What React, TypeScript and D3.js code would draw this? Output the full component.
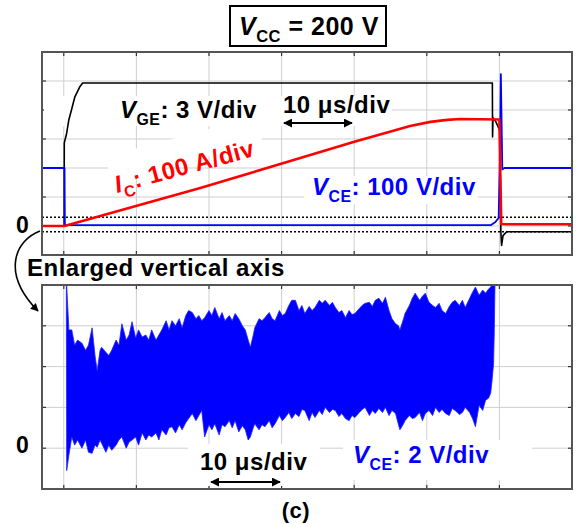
import { area, line, scaleLinear } from "d3";

// time in µs (10 µs/div), 0 = gate turn-on
const timeTicks = [0, 10, 20, 30, 40, 50, 60];
const topGridDivs = [0, 1, 2, 3, 4, 5];
const lowGridVolts = [0, 2, 4, 6];
const zeroBandDivs = [0.3, -0.2];

// V_GE, 3 V/div
const vgeTime = [-3, 0.05, 0.07, 0.2, 0.4, 0.7, 1.06, 1.5, 2.2, 2.6, 59.03, 59.06, 59.12, 59.5, 60.05, 60.2, 60.3, 60.5, 61, 70];
const vgeVolt = [0, 0, 8.6, 9.0, 9.6, 11.0, 12.0, 13.3, 14.4, 14.8, 14.8, 9.2, 11.2, 10.8, 9.9, -0.6, -2.0, -1.0, -0.6, -0.6];

// I_C, 100 A/div
const icTime = [-3, 0.1, 18.8, 31.2, 39.9, 47.7, 50.5, 52.8, 54.6, 60.0, 60.25, 61, 70];
const icAmp = [0, 0, 131, 224, 290, 345, 359, 366, 369, 367, 7, 6, 6];

// V_CE, 100 V/div
const vceTime = [-3, 0.1, 0.15, 58.8, 59.45, 59.9, 60.1, 60.2, 60.4, 60.7, 70];
const vceVolt = [200, 200, 3, 3, 14, 28, 300, 524, 195, 200, 200];

// V_CE enlarged (2 V/div): [time, upper, lower] envelope of the noisy on-state trace
const vceNoise: [number, number, number][] = [
  [0.35, 8.0, 8.0], [0.4, 8.0, -1.1], [0.7, 5.8, -0.35], [1.1, 5.8, 0.55], [1.5, 5.05, 0.15],
  [1.9, 5.3, 0.4], [2.5, 5.15, 0], [3.0, 4.8, 0.4], [3.4, 5.05, -0.2], [3.9, 5.9, -0.25],
  [4.3, 4.55, 0.15], [4.6, 3.8, 0.05], [5.0, 4.8, 0.4], [5.2, 4.95, 0.25], [5.8, 4.7, -0.2],
  [6.2, 4.55, 0.15], [6.6, 4.8, -0.1], [7.2, 5.3, 0.15], [7.6, 5.05, 0.4], [8.0, 6.1, 0.55],
  [8.6, 5.3, 0], [9.0, 5.55, 0.3], [9.4, 6.2, 0.4], [9.9, 5.4, 0.55], [10.3, 5.8, 0.15],
  [10.8, 5.45, 0.75], [11.3, 5.55, 0.4], [11.7, 5.3, 0.65], [12.1, 5.8, 0.55], [12.7, 5.3, 0.75],
  [13.1, 5.55, 0.4], [13.5, 5.8, 0.9], [14.1, 6.25, 0.65], [14.5, 5.8, 1.0], [14.9, 6.25, 1.05],
  [15.4, 6.0, 0.75], [15.9, 6.35, 1.15], [16.3, 5.9, 0.9], [16.8, 6.5, 1.25], [17.2, 6.75, 1.45],
  [17.7, 6.65, 1.7], [18.2, 6.35, 1.35], [18.6, 6.5, 1.6], [19.0, 6.25, 1.85], [19.4, 6.4, 0.55],
  [20.0, 6.75, 1.15], [20.4, 6.5, 0.9], [20.8, 6.9, 1.2], [21.4, 6.35, 0.65], [21.8, 6.65, 1.15],
  [22.2, 6.25, 1.05], [22.8, 6.5, 1.35], [23.2, 6.25, 1.0], [23.6, 6.6, 1.35], [24.1, 6.35, 0.8],
  [24.6, 6.0, 1.1], [25.0, 5.8, 0.9], [25.4, 5.3, 0.4], [25.7, 4.95, 0.55], [26.1, 5.55, 1.0],
  [26.3, 5.9, 1.2], [26.9, 6.35, 0.9], [27.3, 6.25, 1.15], [27.7, 6.4, 1.05], [28.3, 6.65, 1.35],
  [28.7, 6.35, 1.0], [29.1, 6.25, 1.2], [29.7, 6.75, 1.6], [30.1, 6.5, 1.35], [30.5, 6.6, 1.5],
  [31.0, 7.0, 1.75], [31.4, 7.25, 1.45], [31.9, 7.25, 1.7], [32.4, 6.75, 1.55], [32.8, 7.0, 1.9],
  [33.2, 6.6, 1.85], [33.8, 6.95, 1.35], [34.2, 6.75, 1.75], [34.6, 6.9, 1.5], [35.2, 7.25, 1.85],
  [35.6, 7.1, 1.65], [36.0, 7.25, 2.0], [36.6, 7.0, 1.75], [37.0, 7.15, 1.9], [37.4, 6.9, 1.85],
  [37.9, 6.65, 1.55], [38.3, 6.75, 1.7], [38.8, 6.4, 1.45], [39.3, 6.75, 1.35], [39.7, 6.55, 1.6],
  [40.1, 6.6, 1.5], [40.7, 6.85, 1.75], [41.1, 7.0, 1.9], [41.5, 7.1, 2.0], [42.1, 7.15, 1.6],
  [42.5, 6.95, 1.85], [42.9, 7.25, 1.7], [43.4, 7.35, 1.95], [43.9, 7.1, 1.75], [44.3, 7.4, 2.0],
  [44.8, 6.75, 1.6], [45.2, 6.35, 1.85], [45.7, 6.1, 1.7], [46.1, 6.0, 1.15], [46.3, 5.8, 0.9],
  [46.8, 6.35, 1.2], [47.0, 6.6, 1.35], [47.6, 7.0, 1.6], [48.0, 7.35, 1.45], [48.4, 7.6, 1.5],
  [49.0, 7.25, 1.75], [49.4, 7.45, 1.35], [49.8, 7.6, 1.7], [50.3, 7.15, 1.85], [50.8, 7.0, 1.6],
  [51.2, 6.9, 2.0], [51.7, 7.1, 1.75], [52.1, 6.75, 1.9], [52.6, 6.6, 1.7], [53.1, 6.95, 1.6],
  [53.5, 7.15, 1.95], [53.9, 7.25, 1.85], [54.5, 7.0, 1.65], [54.9, 7.25, 1.75], [55.3, 6.9, 2.0],
  [55.9, 7.35, 1.75], [56.3, 7.65, 1.45], [56.7, 7.9, 1.05], [57.2, 7.5, 2.1], [57.7, 7.75, 1.85],
  [58.1, 7.6, 2.35], [58.5, 7.8, 2.45], [58.8, 7.9, 2.7], [59.0, 8.0, 3.35], [59.2, 8.0, 4.15],
  [59.3, 8.0, 5.8], [59.4, 8.2, 8.2],
];

const FONT = "'Liberation Sans', Arial, Helvetica, sans-serif";

const x = scaleLinear().domain([-3, 70]).range([42, 572]);
const yDiv = scaleLinear().domain([-1, 6]).range([255, 52]);
const yVge = scaleLinear().domain([-3, 18]).range([255, 52]);
const yIc = scaleLinear().domain([-100, 600]).range([255, 52]);
const yVce = scaleLinear().domain([-100, 600]).range([255, 52]);
const yLow = scaleLinear().domain([-2, 8]).range([489, 285]);

function trace(ts: number[], vs: number[], y: (v: number) => number) {
  const l = line<number>()
    .x((_, i) => x(ts[i]))
    .y((v) => y(v));
  return l(vs) || "";
}

function Grid({ y, levels, top, bottom }: { y: (v: number) => number; levels: number[]; top: number; bottom: number }) {
  const left = x.range()[0];
  const right = x.range()[1];
  return (
    <g>
      {timeTicks.map((t) => (
        <g key={"v" + t}>
          <line x1={x(t)} x2={x(t)} y1={top} y2={bottom} stroke="#cfcfcf" strokeWidth={1} />
          <line x1={x(t)} x2={x(t)} y1={top} y2={top + 4} stroke="#333" strokeWidth={1.2} />
          <line x1={x(t)} x2={x(t)} y1={bottom - 4} y2={bottom} stroke="#333" strokeWidth={1.2} />
        </g>
      ))}
      {levels.map((v) => (
        <g key={"h" + v}>
          <line x1={left} x2={right} y1={y(v)} y2={y(v)} stroke="#cfcfcf" strokeWidth={1} />
          <line x1={left} x2={left + 4} y1={y(v)} y2={y(v)} stroke="#333" strokeWidth={1.2} />
          <line x1={right - 4} x2={right} y1={y(v)} y2={y(v)} stroke="#333" strokeWidth={1.2} />
        </g>
      ))}
    </g>
  );
}

function SubLabel({ x0, y0, main, sub, rest, color, size, italic = true }: any) {
  return (
    <text x={x0} y={y0} fill={color} fontFamily={FONT} fontWeight="bold" fontSize={size} letterSpacing={0.5}>
      <tspan fontStyle={italic ? "italic" : "normal"}>{main}</tspan>
      <tspan fontSize={size * 0.66} dy={size * 0.28}>{sub}</tspan>
      <tspan dy={-size * 0.28}>{rest}</tspan>
    </text>
  );
}

function Plain({ x0, y0, size, children, anchor = "start" }: any) {
  return (
    <text x={x0} y={y0} textAnchor={anchor} fontFamily={FONT} fontWeight="bold" fontSize={size} letterSpacing={0.5}>
      {children}
    </text>
  );
}

export default function App() {
  const left = 42;
  const right = 572;
  const noiseArea =
    area<[number, number, number]>()
      .x((d) => x(d[0]))
      .y0((d) => yLow(d[2]))
      .y1((d) => yLow(d[1]))(vceNoise) || "";

  return (
    <svg width={580} height={524} style={{ position: "absolute", left: 0, top: 0, background: "#fff" }}>
      <defs>
        <marker id="ah" viewBox="0 0 10 10" refX="9" refY="5" markerWidth="5" markerHeight="5" orient="auto-start-reverse">
          <path d="M0,0 L10,5 L0,10 z" fill="#000" />
        </marker>
        <clipPath id="clipTop">
          <rect x={left} y={52} width={right - left} height={203} />
        </clipPath>
        <clipPath id="clipLow">
          <rect x={left} y={285} width={right - left} height={204} />
        </clipPath>
      </defs>

      {/* title */}
      <rect x={230} y={6} width={156} height={40} fill="#fff" stroke="#000" strokeWidth={2} />
      <SubLabel x0={239} y0={35} main="V" sub="CC" rest=" = 200 V" color="#000" size={25} />

      {/* upper panel */}
      <Grid y={yDiv} levels={topGridDivs} top={52} bottom={255} />
      <rect x={44} y={96} width={348} height={30} fill="#fff" />
      <rect x={304} y={176} width={174} height={28} fill="#fff" />
      <rect x={112} y={156} width={156} height={26} fill="#fff" transform="rotate(-15 112 182)" />
      {zeroBandDivs.map((d) => (
        <line key={d} x1={left} x2={right} y1={yDiv(d)} y2={yDiv(d)} stroke="#000" strokeWidth={1.6} strokeDasharray="2 2" />
      ))}
      <g clipPath="url(#clipTop)" fill="none" strokeLinejoin="round">
        <path d={trace(vgeTime, vgeVolt, yVge)} stroke="#000" strokeWidth={1.6} />
        <path d={trace(vceTime, vceVolt, yVce)} stroke="#0000ff" strokeWidth={1.8} />
        <path d={trace(icTime, icAmp, yIc)} stroke="#ff0000" strokeWidth={2.6} />
      </g>
      <rect x={left} y={52} width={right - left} height={203} fill="none" stroke="#555" strokeWidth={2} />

      <SubLabel x0={120} y0={118} main="V" sub="GE" rest=": 3 V/div" color="#000" size={24} />
      <Plain x0={283} y0={113} size={24}>10 μs/div</Plain>
      <line x1={284} x2={352} y1={123} y2={123} stroke="#000" strokeWidth={1.8} markerStart="url(#ah)" markerEnd="url(#ah)" />
      <g transform="rotate(-15 117 193)">
        <SubLabel x0={117} y0={193} main="I" sub="C" rest=": 100 A/div" color="#ff0000" size={24} />
      </g>
      <SubLabel x0={312} y0={195} main="V" sub="CE" rest=": 100 V/div" color="#0000ff" size={24} />
      <Plain x0={16} y0={233} size={23}>0</Plain>

      <Plain x0={27} y0={276} size={24}>Enlarged vertical axis</Plain>
      <path d="M40,231 C16,240 0,272 38,311" fill="none" stroke="#000" strokeWidth={1.6} markerEnd="url(#ah)" />

      {/* lower panel */}
      <Grid y={yLow} levels={lowGridVolts} top={285} bottom={489} />
      <rect x={188} y={444} width={132} height={42} fill="#fff" />
      <rect x={343} y={440} width={189} height={40} fill="#fff" />
      <g clipPath="url(#clipLow)">
        <path d={noiseArea} fill="#0000ff" stroke="#2020ff" strokeWidth={0.8} strokeLinejoin="bevel" />
      </g>
      <rect x={left} y={285} width={right - left} height={204} fill="none" stroke="#555" strokeWidth={2} />

      <Plain x0={200} y0={470} size={24}>10 μs/div</Plain>
      <line x1={211} x2={280} y1={482} y2={482} stroke="#000" strokeWidth={1.8} markerStart="url(#ah)" markerEnd="url(#ah)" />
      <SubLabel x0={353} y0={463} main="V" sub="CE" rest=": 2 V/div" color="#0000ff" size={24} />
      <Plain x0={16} y0={453} size={23}>0</Plain>

      <Plain x0={296} y0={518} size={22} anchor="middle">(c)</Plain>
    </svg>
  );
}
